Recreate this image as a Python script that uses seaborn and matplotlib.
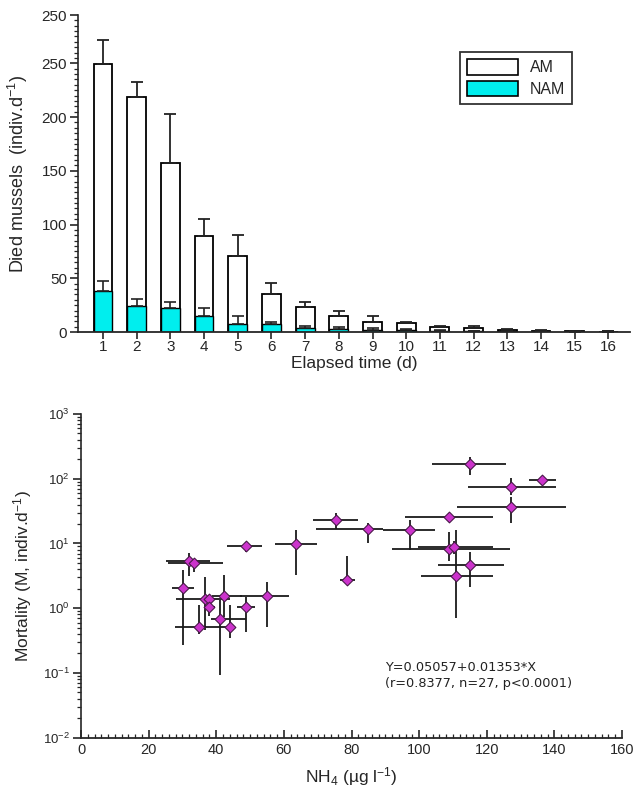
import numpy as np
import pandas as pd
import matplotlib
matplotlib.use("Agg")
import matplotlib.pyplot as plt
from matplotlib.patches import Patch
from matplotlib.ticker import MultipleLocator, LogLocator, NullFormatter, FixedLocator
import seaborn as sns

# ---------------- data ----------------
days = [str(d) for d in range(1, 17)]
am_mean = [249, 219, 157, 89, 71, 35, 23, 14.6, 9.3, 8.4, 4.5, 4.0, 2.0, 1.2, 0.9, 0.3]
am_err = [23, 14, 46, 16, 19, 10.5, 5, 5.4, 5.3, 0.9, 1.0, 2.0, 0.8, 0.6, 0.2, 0.7]
nam_mean = [38, 24, 22, 14.6, 7.7, 7.1, 4.0, 2.5, 2.2, 1.5, 1.0, 0.5, 1.0, 0.5, 0.3, 0.0]
nam_err = [9.7, 6.7, 6.0, 7.7, 6.9, 2.2, 1.6, 2.5, 1.2, 1.0, 1.0, 0.5, 1.0, 0.5, 0.2, 0.5]
legend_labels = ["AM", "NAM"]
y_tick_values = [0, 50, 100, 150, 200, 250, 295]
y_tick_labels = ["0", "50", "100", "150", "200", "250", "250"]

nh4 = [32.0, 33.4, 30.1, 36.8, 37.8, 37.8, 42.4, 41.1, 35.0, 44.0, 48.8, 48.8, 54.9, 63.5,
       75.4, 85.0, 97.3, 108.9, 110.4, 115.1, 110.9, 108.8, 114.9, 127.2, 136.4, 127.2, 78.6]
nh4_lo = [25.2, 25.8, 26.8, 28.0, 36.5, 36.7, 38.7, 38.3, 27.8, 43.5, 46.0, 43.1, 47.0, 57.4,
          68.7, 69.5, 89.4, 91.9, 99.8, 105.7, 100.5, 95.7, 103.9, 114.4, 132.6, 111.2, 76.6]
nh4_hi = [38.2, 41.9, 33.4, 44.0, 39.5, 39.6, 47.5, 48.8, 44.0, 44.5, 51.5, 53.4, 61.5, 69.7,
          82.0, 89.4, 104.7, 126.9, 121.9, 125.1, 121.8, 121.8, 125.6, 140.5, 140.5, 143.5, 81.0]
mort = [5.3, 4.96, 2.08, 1.38, 1.39, 1.04, 1.57, 0.69, 0.52, 0.52, 1.04, 9.3, 1.57, 9.86,
        23.2, 16.6, 16.2, 8.2, 8.96, 4.67, 3.16, 26.1, 170, 75.7, 96, 37.2, 2.74]
mort_lo = [3.1, 3.6, 0.27, 0.46, 1.2, 0.75, 0.74, 0.093, 0.40, 0.35, 0.43, 7.5, 0.51, 3.3,
           16.6, 10.3, 7.96, 5.3, 7.0, 2.1, 0.7, 21.7, 115, 56, 80, 20.6, 2.5]
mort_hi = [7.2, 5.6, 3.9, 3.05, 1.6, 1.3, 3.27, 1.34, 1.12, 1.12, 1.5, 10.5, 2.57, 16.2,
           29.6, 21.0, 23.0, 15.1, 11.0, 7.3, 16.2, 29.6, 218, 102, 108, 53, 6.5]
annotation = ["Y=0.05057+0.01353*X", "(r=0.8377, n=27, p<0.0001)"]

# ---------------- style ----------------
sns.set_theme(style="ticks")
plt.rcParams["font.family"] = ["Liberation Sans", "DejaVu Sans"]
plt.rcParams["mathtext.fontset"] = "custom"
plt.rcParams["mathtext.rm"] = "Liberation Sans"
plt.rcParams["mathtext.it"] = "Liberation Sans:italic"
plt.rcParams["axes.unicode_minus"] = False

fig = plt.figure(figsize=(6.33, 7.93), dpi=100)
fig.patch.set_facecolor("white")

# ---------------- top chart ----------------
ax1 = fig.add_axes([78 / 633, 1 - 332 / 793, (630 - 78) / 633, (332 - 15) / 793])
df_bar = pd.DataFrame({"day": days, "AM": am_mean, "NAM": nam_mean})
sns.barplot(data=df_bar, x="day", y="AM", color="white", edgecolor="black",
            linewidth=1.3, width=0.56, errorbar=None, ax=ax1, saturation=1)
sns.barplot(data=df_bar, x="day", y="NAM", color="#00EEEE", edgecolor="black",
            linewidth=1.0, width=0.56, errorbar=None, ax=ax1, saturation=1)
pos = np.arange(len(days))
ax1.errorbar(pos, am_mean, yerr=[np.zeros(len(days)), am_err], fmt="none",
             ecolor="#222222", elinewidth=1.3, capsize=4, capthick=1.3)
ax1.errorbar(pos, nam_mean, yerr=[np.zeros(len(days)), nam_err], fmt="none",
             ecolor="#222222", elinewidth=1.2, capsize=4, capthick=1.2)
ax1.set_xlim(-0.74, 15.64)
ax1.set_ylim(0, 295)
ax1.yaxis.set_major_locator(FixedLocator(y_tick_values))
ax1.set_yticklabels(y_tick_labels)
ax1.yaxis.set_minor_locator(MultipleLocator(5))
ax1.tick_params(axis="y", which="major", direction="out", length=6, width=1.2, labelsize=11, pad=2)
ax1.tick_params(axis="y", which="minor", direction="out", length=3, width=0.9)
ax1.tick_params(axis="x", which="major", direction="out", length=5, width=1.2, labelsize=11, pad=1)
for s in ["top", "right"]:
    ax1.spines[s].set_visible(False)
ax1.spines["left"].set_linewidth(1.2)
ax1.spines["bottom"].set_linewidth(1.3)
ax1.set_xlabel("Elapsed time (d)", fontsize=12.5, labelpad=1)
ax1.set_ylabel("Died mussels  (indiv.d$^{-1}$)", fontsize=13, labelpad=8)
handles = [Patch(facecolor="white", edgecolor="black", linewidth=1.2),
           Patch(facecolor="#00EEEE", edgecolor="black", linewidth=1.2)]
leg = ax1.legend(handles, legend_labels, loc="upper left",
                 bbox_to_anchor=(460 / 633, 1 - 52 / 793), bbox_transform=fig.transFigure,
                 borderaxespad=0, fancybox=False, edgecolor="black", fontsize=11.5,
                 handlelength=3.2, handleheight=1.1, borderpad=0.45, labelspacing=0.35,
                 handletextpad=0.7)
leg.get_frame().set_linewidth(1.3)

# ---------------- bottom chart ----------------
ax2 = fig.add_axes([81 / 633, 1 - 737.7 / 793, (622 - 81) / 633, (737.7 - 414) / 793])
df_sc = pd.DataFrame({"NH4": nh4, "M": mort})
xerr = [np.array(nh4) - np.array(nh4_lo), np.array(nh4_hi) - np.array(nh4)]
yerr = [np.array(mort) - np.array(mort_lo), np.array(mort_hi) - np.array(mort)]
ax2.errorbar(nh4, mort, xerr=xerr, yerr=yerr, fmt="none", ecolor="#1a1a1a",
             elinewidth=1.3, capsize=0, zorder=2)
sns.scatterplot(data=df_sc, x="NH4", y="M", marker="D", s=30, color="#CC33CC",
                edgecolor="#4a1a4a", linewidth=0.8, ax=ax2, zorder=3, legend=False)
ax2.set_yscale("log")
ax2.set_xlim(0, 160)
ax2.set_ylim(1e-2, 1e3)
ax2.xaxis.set_major_locator(MultipleLocator(20))
ax2.xaxis.set_minor_locator(MultipleLocator(2))
ax2.yaxis.set_major_locator(LogLocator(base=10, numticks=10))
ax2.yaxis.set_minor_locator(LogLocator(base=10, subs=np.arange(2, 10), numticks=20))
ax2.yaxis.set_minor_formatter(NullFormatter())
ax2.tick_params(axis="x", which="major", direction="in", length=6, width=1.2, labelsize=10.5, pad=4)
ax2.tick_params(axis="x", which="minor", direction="in", length=3, width=0.9)
ax2.tick_params(axis="y", which="major", direction="out", length=6, width=1.2, labelsize=9.5, pad=2)
ax2.tick_params(axis="y", which="minor", direction="out", length=3, width=0.9)
for s in ["top", "right"]:
    ax2.spines[s].set_visible(False)
ax2.spines["left"].set_linewidth(1.2)
ax2.spines["bottom"].set_linewidth(1.3)
ax2.set_xlabel("NH$_4$ (µg l$^{-1}$)", fontsize=12.5, labelpad=6)
ax2.set_ylabel("Mortality (M, indiv.d$^{-1}$)", fontsize=12.5, labelpad=6)
ax2.text(0.562, 0.237, annotation[0] + "\n" + annotation[1], transform=ax2.transAxes,
         fontsize=9.3, family="DejaVu Sans", color="#222222", linespacing=1.35,
         va="top", ha="left")

fig.savefig("out.png", dpi=100, facecolor="white")
